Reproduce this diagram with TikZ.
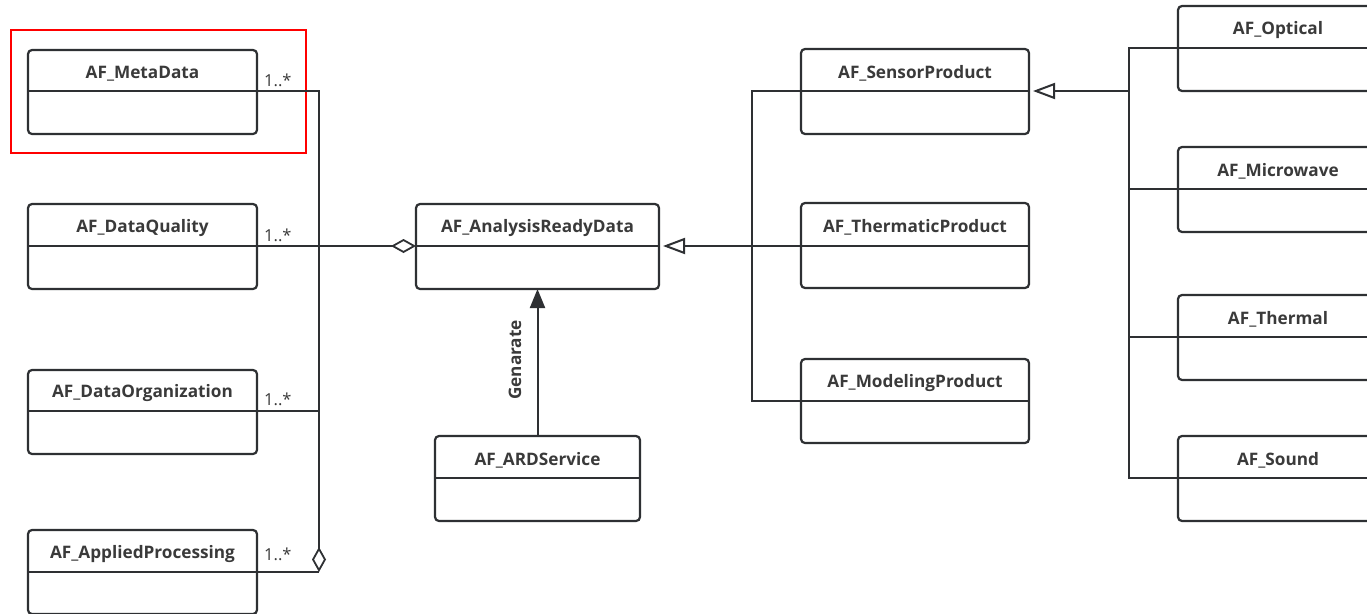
\documentclass[tikz,border=0pt]{standalone}
\usepackage{fontspec}
\setmainfont{Open Sans}
\usetikzlibrary{arrows.meta,calc}
\definecolor{ink}{HTML}{2E3033}
\definecolor{lbl}{HTML}{3A3A3A}
\tikzset{
  box/.style={draw=ink, line width=2.2pt, rounded corners=4pt, inner sep=0pt, outer sep=0pt},
  divline/.style={draw=ink, line width=2pt},
  title/.style={font=\fontsize{17.2}{20}\selectfont\bfseries, text=lbl, inner sep=0pt},
  mult/.style={font=\fontsize{16.5}{18}\selectfont, text=lbl, inner sep=0pt, anchor=south west},
  conn/.style={draw=ink, line width=1.8pt},
  agg/.style={conn, -{Diamond[open, length=25pt, width=14pt, line width=1.8pt]}},
  gen/.style={conn, -{Triangle[open, length=22pt, width=16pt, line width=2pt]}},
  dep/.style={conn, line width=2pt, -{Triangle[length=19pt, width=15pt]}},
}
\newcommand{\umlclass}[7]{%
  \node[box, minimum width=#4pt, minimum height=#5pt, anchor=north west] (#1) at (#2,#3) {};
  \coordinate (#1-dl) at ([yshift=-#6pt]#1.north west);
  \coordinate (#1-dr) at ([yshift=-#6pt]#1.north east);
  \draw[divline] (#1-dl) -- (#1-dr);
  \path (#1.north) -- (#1-dl -| #1.north) node[midway, yshift=-3pt, title] (#1-t) {#7};
}
\begin{document}
\begin{tikzpicture}[x=1pt,y=-1pt]
\useasboundingbox (0,0) rectangle (1367,613);
\clip (0,0) rectangle (1367,613);
\fill[white] (0,0) rectangle (1367,613);

% left column
\umlclass{meta}{28}{50}{229}{84}{41}{AF\_MetaData}
\umlclass{dq}{28}{204}{229}{85}{42}{AF\_DataQuality}
\umlclass{dorg}{28}{370}{229}{84}{41}{AF\_DataOrganization}
\umlclass{ap}{28}{530}{229}{84}{42}{AF\_AppliedProcessing}
\node[draw=red, line width=1.6pt, minimum width=295pt, minimum height=123pt, anchor=north west, inner sep=0pt] (hl) at (10,29) {};

% middle
\umlclass{ard}{416}{204}{243}{85}{42}{AF\_AnalysisReadyData}
\umlclass{svc}{435}{436}{205}{85}{42}{AF\_ARDService}

% products
\umlclass{sp}{801}{49}{228}{85}{42}{AF\_SensorProduct}
\umlclass{tp}{801}{203}{228}{85}{43}{AF\_ThermaticProduct}
\umlclass{mp}{801}{359}{228}{84}{42}{AF\_ModelingProduct}

% sensors
\umlclass{opt}{1178}{6}{200}{85}{42}{AF\_Optical}
\umlclass{mw}{1178}{147}{200}{85}{42}{AF\_Microwave}
\umlclass{th}{1178}{295}{200}{85}{42}{AF\_Thermal}
\umlclass{snd}{1178}{436}{200}{85}{42}{AF\_Sound}

% aggregation on the left
\coordinate (aggx) at (319,0);
\coordinate (aggend) at (ap-dr -| aggx);
\draw[agg] (meta-dr) -| (aggend);
\draw[conn] (ap-dr) -- (aggend);
\draw[conn] (dorg-dr) -- (dorg-dr -| aggx);
\draw[agg] (dq-dr) -- (ard-dl);

\node[mult] (m1) at (264,87) {1..*};
\node[mult] (m2) at (264,242) {1..*};
\node[mult] (m3) at (264,406) {1..*};
\node[mult] (m4) at (264,561) {1..*};

% generate
\draw[dep] (svc.north) -- (ard.south);
\node[title, rotate=90] (gl) at (515,360) {Genarate};

% product generalization
\coordinate (gv) at (752,0);
\draw[gen] (tp-dl) -- ([xshift=4pt]ard-dr);
\draw[conn] (sp-dl) -- (sp-dl -| gv) -- (mp-dl -| gv) -- (mp-dl);

% sensor generalization
\coordinate (sv) at (1129,0);
\draw[gen] (sv |- sp-dr) -- ([xshift=4pt]sp-dr);
\draw[conn] (opt-dl) -- (opt-dl -| sv) -- (snd-dl -| sv) -- (snd-dl);
\draw[conn] (mw-dl) -- (mw-dl -| sv);
\draw[conn] (th-dl) -- (th-dl -| sv);
\end{tikzpicture}
\end{document}
